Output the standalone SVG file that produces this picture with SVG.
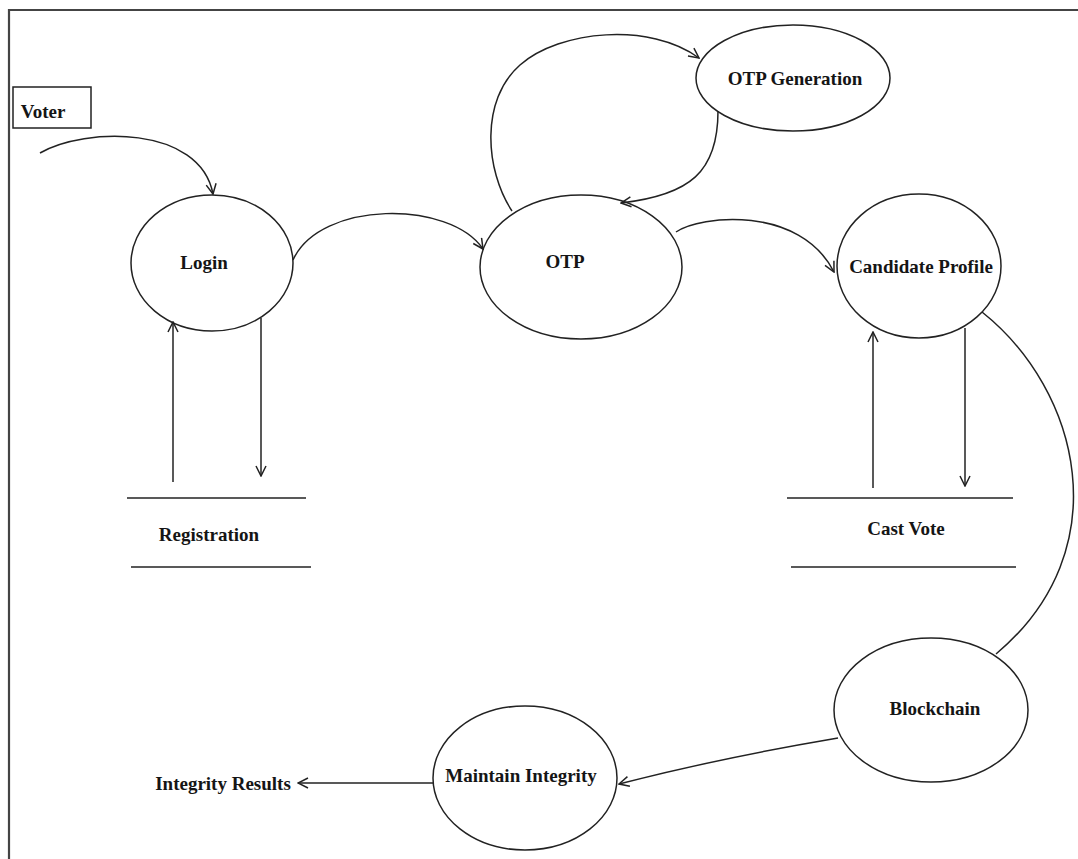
<svg xmlns="http://www.w3.org/2000/svg" width="1078" height="859" viewBox="0 0 1078 859">
  <style>
    .node { fill: #fff; stroke: #222; stroke-width: 1.5; }
    .lbl { font-family: "Liberation Serif", "Times New Roman", serif; font-weight: bold; font-size: 19px; fill: #151515; text-anchor: middle; }
    .edge { fill: none; stroke: #222; stroke-width: 1.5; }
    .store { stroke: #222; stroke-width: 1.6; }
    .frame { fill: none; stroke: #444; stroke-width: 2.2; }
  </style>
  <defs>
    <marker id="arrow" viewBox="0 0 12 12" refX="11" refY="6" markerWidth="12" markerHeight="12" markerUnits="userSpaceOnUse" orient="auto">
      <path d="M1,1 L11,6 L1,11" fill="none" stroke="#222" stroke-width="1.5"/>
    </marker>
  </defs>

  <rect width="1078" height="859" fill="#fff"/>
  <!-- page frame -->
  <path class="frame" d="M9,859 L9,10 L1078,10"/>

  <g id="voter">
    <rect x="13" y="87" width="78" height="41" fill="#fff" stroke="#222" stroke-width="1.5"/>
    <text class="lbl" x="43" y="118">Voter</text>
  </g>

  <g id="login">
    <ellipse class="node" cx="212" cy="263" rx="81" ry="68"/>
    <text class="lbl" x="204" y="269">Login</text>
  </g>

  <g id="otp">
    <ellipse class="node" cx="581" cy="267" rx="101" ry="72"/>
    <text class="lbl" x="565" y="268">OTP</text>
  </g>

  <g id="otp-generation">
    <ellipse class="node" cx="793" cy="78" rx="97" ry="53"/>
    <text class="lbl" x="795" y="85">OTP Generation</text>
  </g>

  <g id="candidate-profile">
    <ellipse class="node" cx="919" cy="266" rx="82" ry="72"/>
    <text class="lbl" x="921" y="273">Candidate Profile</text>
  </g>

  <g id="registration">
    <line class="store" x1="127" y1="498" x2="306" y2="498"/>
    <line class="store" x1="131" y1="567" x2="311" y2="567"/>
    <text class="lbl" x="209" y="541">Registration</text>
  </g>

  <g id="cast-vote">
    <line class="store" x1="787" y1="498" x2="1013" y2="498"/>
    <line class="store" x1="791" y1="567" x2="1016" y2="567"/>
    <text class="lbl" x="906" y="535">Cast Vote</text>
  </g>

  <g id="blockchain">
    <ellipse class="node" cx="931" cy="710" rx="97" ry="72"/>
    <text class="lbl" x="935" y="715">Blockchain</text>
  </g>

  <g id="maintain-integrity">
    <ellipse class="node" cx="525" cy="778" rx="92" ry="72"/>
    <text class="lbl" x="521" y="782">Maintain Integrity</text>
  </g>

  <g id="integrity-results">
    <text class="lbl" x="223" y="790">Integrity Results</text>
  </g>

  <!-- connectors, drawn above the nodes -->
  <g id="connectors">
    <path class="edge" d="M40,153 C85,127 200,125 213,194" marker-end="url(#arrow)"/>
    <path class="edge" d="M293,260 C320,200 450,200 483,249" marker-end="url(#arrow)"/>
    <path class="edge" d="M512,211 C485,170 480,100 520,65 C560,30 650,22 699,58" marker-end="url(#arrow)"/>
    <path class="edge" d="M718,111 C718,172 690,195 621,203" marker-end="url(#arrow)"/>
    <path class="edge" d="M676,232 C700,215 800,205 834,272" marker-end="url(#arrow)"/>
    <path class="edge" d="M982,312 C1080,390 1120,550 996,654"/>
    <path class="edge" d="M838,738 Q720,758 619,784" marker-end="url(#arrow)"/>
    <path class="edge" d="M433,783 L298,783" marker-end="url(#arrow)"/>
    <path class="edge" d="M173,482 L173,322" marker-end="url(#arrow)"/>
    <path class="edge" d="M261,318 L261,476" marker-end="url(#arrow)"/>
    <path class="edge" d="M873,488 L873,332" marker-end="url(#arrow)"/>
    <path class="edge" d="M965,328 L965,486" marker-end="url(#arrow)"/>
  </g>
</svg>
